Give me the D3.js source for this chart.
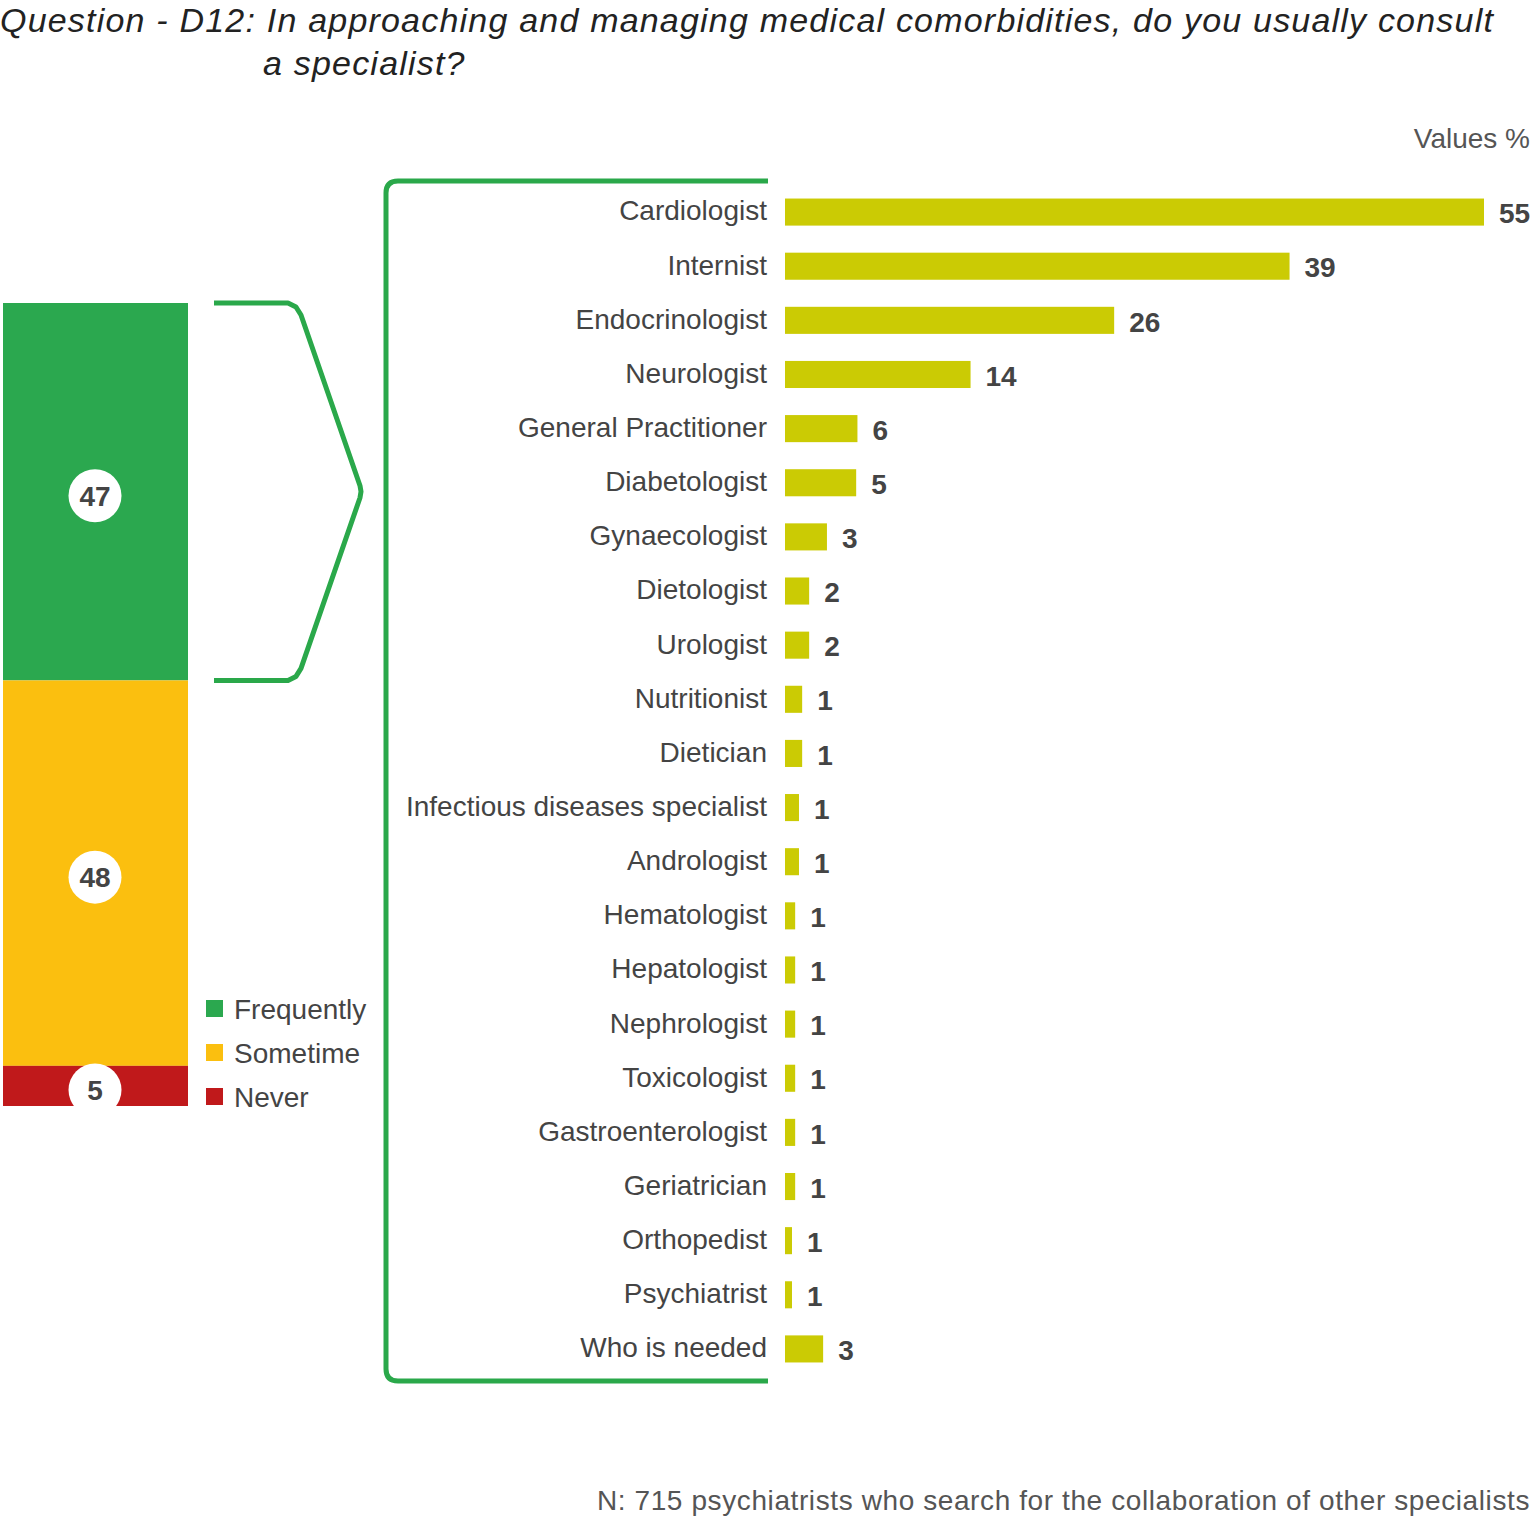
<!DOCTYPE html>
<html>
<head>
<meta charset="utf-8">
<script src="https://cdn.jsdelivr.net/npm/d3@7"></script>
<style>
  body { margin: 0; background: #fff; }
  svg { display: block; font-family: "Liberation Sans", Arial, sans-serif; }
</style>
</head>
<body>
<div id="chart"></div>
<script>
// Stacked answer bar (left)
const answers = ['Frequently', 'Sometime', 'Never'];
const answerValues = [47, 48, 5];
const answerColors = ['#2ba84f', '#fbbf0f', '#c0191b'];

// Specialists consulted by those who answered "Frequently"
const specialists = [
    'Cardiologist', 'Internist', 'Endocrinologist', 'Neurologist',
    'General Practitioner', 'Diabetologist', 'Gynaecologist', 'Dietologist',
    'Urologist', 'Nutritionist', 'Dietician', 'Infectious diseases specialist',
    'Andrologist', 'Hematologist', 'Hepatologist', 'Nephrologist',
    'Toxicologist', 'Gastroenterologist', 'Geriatrician', 'Orthopedist',
    'Psychiatrist', 'Who is needed'
];
// bar lengths
const specialistValues = [55, 39.7, 25.9, 14.6, 5.7, 5.6, 3.3, 1.9, 1.9, 1.35, 1.35,
    1.1, 1.1, 0.8, 0.8, 0.8, 0.8, 0.8, 0.8, 0.55, 0.55, 3.0];
// printed labels
const specialistLabels = ['55', '39', '26', '14', '6', '5', '3', '2', '2', '1', '1',
    '1', '1', '1', '1', '1', '1', '1', '1', '1', '1', '3'];

const width = 1535;
const height = 1521;
const textColor = '#444';
const bracketColor = '#2aa84a';

const svg = d3.select('#chart')
    .append('svg')
    .attr('width', width)
    .attr('height', height);

// Title
const title = svg.append('text')
    .attr('font-style', 'italic')
    .attr('font-size', 34)
    .attr('letter-spacing', 1.2)
    .style('fill', '#222');
title.append('tspan')
    .attr('x', 0).attr('y', 32)
    .text('Question - D12: In approaching and managing medical comorbidities, do you usually consult');
title.append('tspan')
    .attr('x', 263).attr('y', 75)
    .text('a specialist?');

svg.append('text')
    .attr('x', 1530).attr('y', 148)
    .attr('text-anchor', 'end')
    .attr('font-size', 28)
    .style('fill', '#555')
    .text('Values %');

// ---- Left stacked bar ----
const yStack = d3.scaleLinear().domain([0, 100]).range([303, 1106]);
const stacked = answerValues.map((v, i) => {
    const start = d3.sum(answerValues.slice(0, i));
    return { name: answers[i], value: v, y0: start, y1: start + v, color: answerColors[i] };
});

svg.append('clipPath').attr('id', 'stack-clip')
    .append('rect')
    .attr('x', 3).attr('width', 185)
    .attr('y', yStack(0)).attr('height', yStack(100) - yStack(0));

const stackG = svg.append('g').attr('clip-path', 'url(#stack-clip)');

stackG.selectAll('.seg')
    .data(stacked)
    .enter()
    .append('rect')
    .attr('class', 'seg')
    .attr('x', 3)
    .attr('width', 185)
    .attr('y', d => yStack(d.y0))
    .attr('height', d => yStack(d.y1) - yStack(d.y0))
    .style('fill', d => d.color);

const badge = stackG.selectAll('.badge')
    .data(stacked)
    .enter()
    .append('g')
    .attr('class', 'badge')
    .attr('transform', d => `translate(95, ${(yStack(d.y0) + yStack(d.y1)) / 2 + 4})`);

badge.append('circle')
    .attr('r', 26.5)
    .style('fill', '#fff');

badge.append('text')
    .attr('text-anchor', 'middle')
    .attr('dy', '0.36em')
    .attr('font-size', 28)
    .attr('font-weight', 'bold')
    .style('fill', textColor)
    .text(d => d.value);

// Legend
const legend = svg.selectAll('.legend')
    .data(stacked)
    .enter()
    .append('g')
    .attr('class', 'legend')
    .attr('transform', (d, i) => `translate(206, ${1000 + i * 44})`);

legend.append('rect')
    .attr('width', 17).attr('height', 17)
    .style('fill', d => d.color);

legend.append('text')
    .attr('x', 28).attr('y', 19)
    .attr('font-size', 28)
    .style('fill', textColor)
    .text(d => d.name);

// Small chevron bracket around "Frequently"
const gTop = yStack(0), gBot = yStack(answerValues[0]);
const gMid = (gTop + gBot) / 2;
const chevron = d3.line().curve(d3.curveLinear);
svg.append('path')
    .attr('d', chevron([
        [214, gTop], [288, gTop], [296, gTop + 4], [301, gTop + 12],
        [360, gMid - 6], [361, gMid], [360, gMid + 6],
        [301, gBot - 12], [296, gBot - 4], [288, gBot], [214, gBot]
    ]))
    .style('fill', 'none')
    .style('stroke', bracketColor)
    .style('stroke-width', 5)
    .style('stroke-linejoin', 'round');

// ---- Right bar chart ----
const x = d3.scaleLinear().domain([0, 55]).range([785, 1484]);
const y = d3.scaleBand()
    .domain(specialists)
    .range([185, 1376])
    .paddingInner(0.5)
    .paddingOuter(0.25);

// Large bracket
svg.append('path')
    .attr('d', `M768,181 H398 Q386,181 386,193 V1369 Q386,1381 398,1381 H768`)
    .style('fill', 'none')
    .style('stroke', bracketColor)
    .style('stroke-width', 5);

const rows = specialists.map((name, i) => ({
    name, value: specialistValues[i], label: specialistLabels[i]
}));

svg.selectAll('.bar')
    .data(rows)
    .enter()
    .append('rect')
    .attr('class', 'bar')
    .attr('x', x(0))
    .attr('y', d => y(d.name))
    .attr('width', d => x(d.value) - x(0))
    .attr('height', y.bandwidth())
    .style('fill', '#cbcb04');

svg.selectAll('.cat')
    .data(rows)
    .enter()
    .append('text')
    .attr('class', 'cat')
    .attr('x', 767)
    .attr('y', d => y(d.name) + y.bandwidth() / 2)
    .attr('dy', '0.3em')
    .attr('text-anchor', 'end')
    .attr('font-size', 28)
    .style('fill', textColor)
    .text(d => d.name);

svg.selectAll('.val')
    .data(rows)
    .enter()
    .append('text')
    .attr('class', 'val')
    .attr('x', d => x(d.value) + 15)
    .attr('y', d => y(d.name) + y.bandwidth() / 2)
    .attr('dy', '0.4em')
    .attr('font-size', 28)
    .attr('font-weight', 'bold')
    .style('fill', textColor)
    .text(d => d.label);

// Footnote
svg.append('text')
    .attr('x', 1530).attr('y', 1510)
    .attr('text-anchor', 'end')
    .attr('font-size', 28)
    .attr('letter-spacing', 0.6)
    .style('fill', '#555')
    .text('N: 715 psychiatrists who search for the collaboration of other specialists');
</script>
</body>
</html>
